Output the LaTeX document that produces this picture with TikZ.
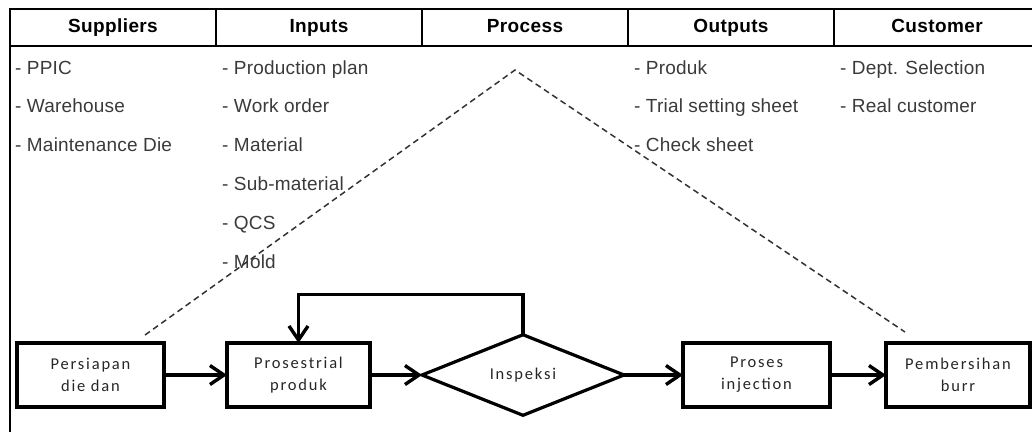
\documentclass[tikz,border=0pt]{standalone}
\usepackage{fontspec}
\usepackage{tikz}
\usetikzlibrary{positioning, shapes.geometric, arrows.meta}
\setmainfont{Liberation Sans}
\newfontfamily\headfont[LetterSpace=2]{Liberation Sans}
\newfontfamily\listfont[LetterSpace=1]{Liberation Sans}
\newfontfamily\boxfont[LetterSpace=11]{Carlito}
\definecolor{listgray}{HTML}{3A3A3A}

\begin{document}
\begin{tikzpicture}[x=1pt, y=-1pt,
  head/.style={draw, line width=2.6pt, outer sep=0pt, minimum width=206pt, minimum height=37pt, inner sep=0pt, text height=13pt, text depth=4pt, font=\headfont\fontsize{19}{22}\selectfont\bfseries},
  item/.style={anchor=base west, inner sep=0pt, text=listgray, font=\listfont\fontsize{19}{22}\selectfont},
  stage/.style={draw, line width=3.6pt, outer sep=0pt, minimum height=64pt, inner sep=0pt, align=center, text=black!85, font=\boxfont\fontsize{16.5}{22}\selectfont},
  check/.style={diamond, draw, line width=3.2pt, outer sep=0pt, minimum width=202pt, minimum height=66pt, inner sep=0pt, text=black!85, font=\boxfont\fontsize{16.5}{22}\selectfont},
  flow/.style={line width=3.4pt, -{Straight Barb[length=14pt, width=19pt, line width=3.4pt]}},
  guide/.style={line width=1.5pt, dash pattern=on 6pt off 4pt, black!80}]
\useasboundingbox (0,0) rectangle (1032,432);
\clip (0,0) rectangle (1032,432);

% header row
\node[head] (sup) at (113,27.5) {Suppliers};
\node[head, right=0pt of sup] (inp) {Inputs};
\node[head, right=0pt of inp] (pro) {Process};
\node[head, right=0pt of pro] (out) {Outputs};
\node[head, right=0pt of out] (cus) {Customer};
\coordinate (bl) at (10,432);
\draw[line width=2.6pt] (sup.south west) -- (bl);

% lists
\node[item] (s1) at (15,74) {- PPIC};
\node[item] (s2) at (15,112) {- Warehouse};
\node[item] (s3) at (15,151) {- Maintenance Die};
\node[item] (i1) at (222,74) {- Production plan};
\node[item] (i2) at (222,112) {- Work order};
\node[item] (i3) at (222,151) {- Material};
\node[item] (i4) at (222,190) {- Sub-material};
\node[item] (i5) at (222,229) {- QCS};
\node[item] (i6) at (222,268) {- Mold};
\node[item] (o1) at (634,74) {- Produk};
\node[item] (o2) at (634,112) {- Trial setting sheet};
\node[item] (o3) at (634,151) {- Check sheet};
\node[item] (c1) at (840,74) {- Dept. Selection};
\node[item] (c2) at (840,112) {- Real customer};

% dashed outline
\coordinate (dl) at (145,335);
\coordinate (apex) at (515,70);
\coordinate (dr) at (905,332);
\draw[guide] (dl) -- (apex) -- (dr);

% process flow
\node[stage, minimum width=147pt] (prep) at (90.5,375) {Persiapan\\die dan};
\node[stage, minimum width=143pt] (trial) at (298.5,375) {Prosestrial\\produk};
\node[check] (insp) at (523,375) {Inspeksi};
\node[stage, minimum width=147pt] (inj) at (756.5,375) {Proses\\injection};
\node[stage, minimum width=144pt] (burr) at (958,375) {Pembersihan\\burr};

\draw[flow] (prep) -- (trial);
\draw[flow] (trial) -- (insp);
\draw[flow] (insp) -- (inj);
\draw[flow] (inj) -- (burr);
\draw[flow] (insp.north) -- ++(0,-40) -| (trial.north);

\end{tikzpicture}
\end{document}
